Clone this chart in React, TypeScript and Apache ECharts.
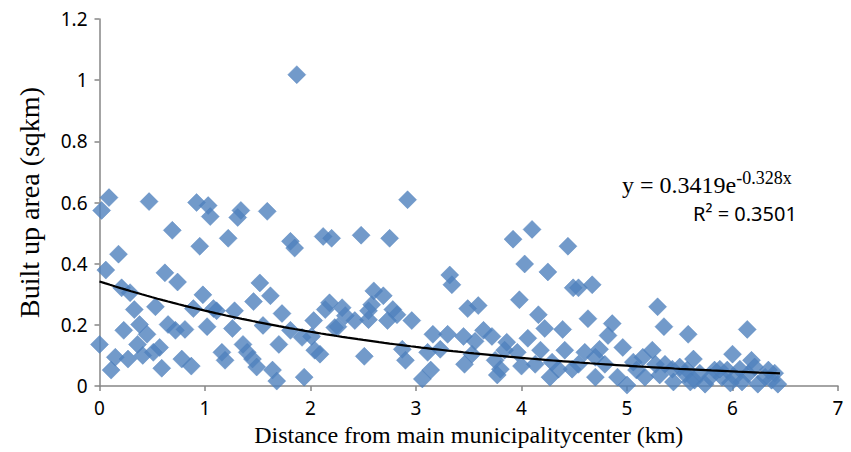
import React, { useEffect, useRef } from "react";
import * as echarts from "echarts";

// Scatter data: distance (km) and built-up area (sqkm)
const distanceKm: number[] = [
  0.09, 0.02, 0.47, 0.92, 1.03, 1.05, 0.69, 0.95, 0.18, 0.06,
  0.62, 0.74, 0.21, 0.29, 0.98, 0.33, 0.53, 0.89, 1.08, 0.23,
  0.38, 0.45, 0.65, 0.72, 0.81, 1.02, 0.0, 0.36, 0.41, 0.57,
  0.51, 0.15, 0.27, 0.78, 0.87, 0.59, 0.11, 1.34, 1.31, 1.59,
  1.22, 1.81, 1.85, 2.12, 2.2, 1.52, 1.62, 1.46, 2.14, 2.18,
  1.11, 1.28, 1.73, 1.26, 1.55, 1.81, 1.92, 2.01, 2.03, 2.23,
  1.16, 1.19, 1.36, 1.4, 1.45, 1.49, 1.7, 2.04, 2.09, 1.64,
  1.68, 1.94, 1.87, 2.92, 2.48, 2.75, 3.32, 3.34, 2.3, 2.6,
  2.69, 2.58, 2.55, 2.78, 2.82, 2.73, 2.96, 2.26, 2.42, 2.55,
  2.33, 3.16, 3.3, 2.51, 2.87, 2.9, 3.11, 3.23, 3.06, 3.14,
  4.1, 3.92, 4.44, 4.03, 4.25, 4.49, 3.98, 3.49, 3.59, 4.16,
  4.22, 4.39, 3.45, 3.56, 3.64, 3.72, 3.86, 3.84, 4.06, 3.96,
  4.18, 4.41, 3.53, 3.46, 3.75, 3.8, 3.77, 4.0, 4.13, 4.29,
  4.35, 4.27, 4.48, 4.54, 4.67, 5.29, 4.63, 4.86, 4.82, 5.35,
  5.58, 4.96, 4.74, 4.7, 5.24, 5.15, 4.6, 4.54, 4.79, 5.06,
  5.09, 5.27, 5.36, 5.43, 5.5, 5.57, 4.7, 4.91, 5.0, 5.44,
  5.63, 6.14, 6.0, 6.18, 6.4, 5.55, 5.64, 5.74, 5.83, 5.9,
  5.95, 6.02, 6.07, 6.15, 6.24, 6.31, 6.37, 6.43, 5.17, 5.31,
  5.69, 5.79, 5.88, 6.09, 6.21, 5.6, 5.98, 6.34,
];

const builtUpArea: number[] = [
  0.616, 0.574, 0.603, 0.6, 0.59, 0.554, 0.509, 0.457, 0.431, 0.379,
  0.37, 0.34, 0.321, 0.305, 0.298, 0.25, 0.259, 0.253, 0.253, 0.182,
  0.201, 0.169, 0.201, 0.182, 0.185, 0.194, 0.136, 0.136, 0.1, 0.126,
  0.11, 0.094, 0.088, 0.088, 0.065, 0.058, 0.052, 0.574, 0.551, 0.571,
  0.483, 0.473, 0.451, 0.489, 0.483, 0.337, 0.295, 0.276, 0.25, 0.272,
  0.246, 0.246, 0.237, 0.188, 0.198, 0.182, 0.159, 0.162, 0.214, 0.191,
  0.11, 0.084, 0.136, 0.11, 0.088, 0.062, 0.136, 0.117, 0.104, 0.052,
  0.016, 0.029, 1.018, 0.609, 0.493, 0.483, 0.363, 0.331, 0.256, 0.311,
  0.295, 0.266, 0.246, 0.25, 0.233, 0.214, 0.214, 0.194, 0.214, 0.217,
  0.23, 0.169, 0.169, 0.097, 0.12, 0.084, 0.11, 0.12, 0.023, 0.052,
  0.512, 0.48, 0.457, 0.399, 0.373, 0.321, 0.282, 0.253, 0.263, 0.233,
  0.188, 0.185, 0.162, 0.146, 0.182, 0.162, 0.143, 0.117, 0.156, 0.11,
  0.117, 0.117, 0.104, 0.071, 0.084, 0.055, 0.036, 0.065, 0.071, 0.078,
  0.055, 0.029, 0.055, 0.321, 0.331, 0.259, 0.22, 0.204, 0.165, 0.194,
  0.169, 0.126, 0.12, 0.094, 0.117, 0.094, 0.11, 0.071, 0.071, 0.078,
  0.052, 0.071, 0.071, 0.055, 0.062, 0.052, 0.029, 0.029, 0.003, 0.013,
  0.088, 0.185, 0.104, 0.084, 0.042, 0.039, 0.019, 0.006, 0.052, 0.029,
  0.052, 0.029, 0.055, 0.039, 0.006, 0.029, 0.019, 0.006, 0.029, 0.036,
  0.042, 0.029, 0.055, 0.013, 0.062, 0.013, 0.01, 0.052,
];

// Exponential trendline shown on the chart: y = a * e^(b x)
const TREND_A = 0.3419;
const TREND_B = -0.328;
const TREND_X_END = 6.45;
const TREND_STEP = 0.05;

const yTicks: number[] = [0, 0.2, 0.4, 0.6, 0.8, 1, 1.2];
const xTicks: number[] = [0, 1, 2, 3, 4, 5, 6, 7];

const EQUATION_MAIN = "y = 0.3419e";
const EQUATION_EXP = "-0.328x";
const R2_TEXT = "R² = 0.3501";

export default function App() {
  const ref = useRef<HTMLDivElement>(null);

  useEffect(() => {
    if (!ref.current) return;
    const chart = echarts.init(ref.current, undefined, { renderer: "svg" });

    const scatterData = distanceKm.map((x, i) => [x, builtUpArea[i]]);
    const trendData: number[][] = [];
    const n = Math.round(TREND_X_END / TREND_STEP);
    for (let i = 0; i <= n; i++) {
      const x = Math.min(i * TREND_STEP, TREND_X_END);
      trendData.push([x, TREND_A * Math.exp(TREND_B * x)]);
    }

    const axisColor = "#868686";
    const labelFont = { fontFamily: "Noto Sans", fontSize: 19, color: "#000" };

    chart.setOption({
      animation: false,
      backgroundColor: "#fff",
      grid: { left: 99.5, right: 13, top: 19, bottom: 63, containLabel: false },
      xAxis: {
        type: "value",
        min: xTicks[0],
        max: xTicks[xTicks.length - 1],
        interval: 1,
        name: "Distance from main municipalitycenter (km)",
        nameLocation: "middle",
        nameGap: 37,
        nameTextStyle: { fontFamily: "Liberation Serif", fontSize: 24, color: "#000" },
        axisLine: { lineStyle: { color: axisColor, width: 1.5 } },
        axisTick: { show: true, length: 5, lineStyle: { color: axisColor, width: 1.5 } },
        axisLabel: { ...labelFont, margin: 12 },
        splitLine: { show: false },
      },
      yAxis: {
        type: "value",
        min: yTicks[0],
        max: yTicks[yTicks.length - 1],
        interval: 0.2,
        name: "Built up area (sqkm)",
        nameLocation: "middle",
        nameGap: 56,
        nameRotate: 90,
        nameTextStyle: { fontFamily: "Liberation Serif", fontSize: 28, color: "#000" },
        axisLine: { show: true, lineStyle: { color: axisColor, width: 1.5 } },
        axisTick: { show: true, length: 5, lineStyle: { color: axisColor, width: 1.5 } },
        axisLabel: {
          ...labelFont,
          margin: 12,
          formatter: (v: number) => String(parseFloat(v.toFixed(1))),
        },
        splitLine: { show: false },
      },
      series: [
        {
          type: "scatter",
          data: scatterData,
          symbol: "diamond",
          symbolSize: 18,
          itemStyle: { color: "#4F81BD", borderColor: "#4A7EBB", borderWidth: 0.5 },
          z: 2,
        },
        {
          type: "line",
          data: trendData,
          showSymbol: false,
          symbol: "none",
          smooth: false,
          lineStyle: { color: "#000", width: 2.2 },
          z: 3,
          silent: true,
        },
      ],
      graphic: [
        {
          type: "text",
          left: 622,
          top: 169,
          style: {
            text: "{m|" + EQUATION_MAIN + "}{s|" + EQUATION_EXP + "}",
            rich: {
              m: { fontFamily: "Liberation Serif", fontSize: 24, lineHeight: 28, fill: "#000", verticalAlign: "bottom" },
              s: { fontFamily: "Liberation Serif", fontSize: 18, lineHeight: 18, fill: "#000", verticalAlign: "top" },
            },
          },
        },
        {
          type: "text",
          left: 693,
          top: 203,
          style: {
            text: R2_TEXT,
            fontFamily: "Noto Sans",
            fontSize: 20,
            fill: "#000",
          },
        },
      ],
    });

    return () => chart.dispose();
  }, []);

  return (
    <div
      ref={ref}
      style={{ position: "fixed", left: 0, top: 0, width: 851, height: 452 }}
    />
  );
}
